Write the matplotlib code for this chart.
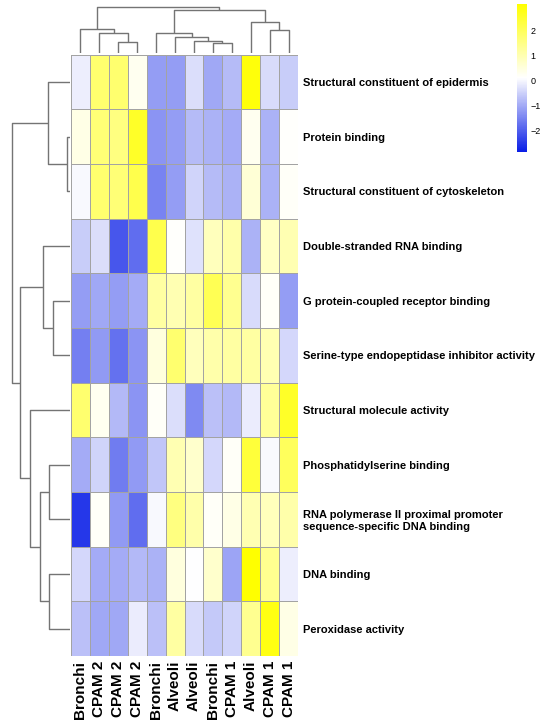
import matplotlib
matplotlib.use("Agg")
import matplotlib.pyplot as plt
import numpy as np
from matplotlib.colors import LinearSegmentedColormap

plt.rcParams["font.family"] = ["Liberation Sans", "DejaVu Sans"]

# ---- data (display order, top to bottom / left to right) ----
row_labels = [
    "Structural constituent of epidermis",
    "Protein binding",
    "Structural constituent of cytoskeleton",
    "Double-stranded RNA binding",
    "G protein-coupled receptor binding",
    "Serine-type endopeptidase inhibitor activity",
    "Structural molecule activity",
    "Phosphatidylserine binding",
    "RNA polymerase II proximal promoter\nsequence-specific DNA binding",
    "DNA binding",
    "Peroxidase activity",
]
col_labels = ["Bronchi", "CPAM 2", "CPAM 2", "CPAM 2", "Bronchi", "Alveoli",
              "Alveoli", "Bronchi", "CPAM 1", "Alveoli", "CPAM 1", "CPAM 1"]

values = [
    [-0.09, 1.80, 1.80, 0.30, -1.16, -1.16, -0.31, -1.02, -0.76, 2.95, -0.36, -0.53],
    [0.40, 1.70, 1.60, 2.60, -1.29, -1.16, -0.76, -0.89, -0.98, 0.30, -0.89, 0.15],
    [0.05, 1.80, 1.70, 2.20, -1.51, -1.16, -0.45, -0.76, -0.89, 0.60, -0.89, 0.20],
    [-0.53, -0.31, -2.09, -1.78, 2.20, 0.15, -0.27, 0.90, 1.10, -0.89, 0.80, 1.00],
    [-1.16, -1.02, -1.16, -0.98, 1.20, 1.00, 1.20, 2.10, 1.40, -0.36, 0.20, -1.16],
    [-1.56, -1.20, -1.74, -1.29, 0.50, 1.80, 0.90, 1.10, 1.20, 1.20, 1.00, -0.40],
    [1.80, 0.30, -0.80, -1.29, 0.20, -0.31, -1.42, -0.71, -0.80, -0.13, 1.30, 2.60],
    [-0.98, -0.45, -1.60, -1.20, -0.62, 1.00, 0.70, -0.40, 0.20, 2.40, 0.05, 2.00],
    [-2.50, 0.20, -1.20, -1.78, 0.05, 1.60, 1.10, 0.20, 0.40, 1.00, 0.90, 1.10],
    [-0.40, -0.98, -0.98, -0.80, -0.89, 0.50, 0.10, 0.70, -1.07, 3.08, 1.40, -0.09],
    [-0.71, -1.02, -1.02, -0.13, -0.71, 1.20, -0.36, -0.58, -0.45, 1.40, 2.85, 0.40],
]
key_min, key_max = -2.84, 3.08
key_ticks = [-2, -1, 0, 1, 2]

# linkage: (child a, child b, height); ids < n are leaves, n + k is merge k
col_merges = [
    (2, 3, 11.7), (1, 12, 20.0), (0, 13, 24.0),
    (7, 8, 10.0), (6, 15, 12.0), (5, 16, 16.0), (4, 17, 20.7),
    (10, 11, 23.3), (9, 19, 31.0),
    (18, 20, 43.3), (14, 21, 46.0),
]
row_merges = [
    (1, 2, 2.7), (0, 11, 21.7),
    (4, 5, 16.7), (3, 13, 26.7),
    (7, 8, 21.0), (9, 10, 21.5), (15, 16, 30.3), (6, 17, 40.3),
    (14, 18, 50.0), (12, 19, 57.7),
]


def dendro_segments(merges, n):
    pos = {i: float(i) for i in range(n)}
    hgt = {i: 0.0 for i in range(n)}
    segs = []
    for k, (a, b, h) in enumerate(merges):
        segs.append([(pos[a], hgt[a]), (pos[a], h), (pos[b], h), (pos[b], hgt[b])])
        pos[n + k] = (pos[a] + pos[b]) / 2
        hgt[n + k] = h
    return segs


W, H = 545, 727
fig = plt.figure(figsize=(W / 100, H / 100), dpi=100)

hm_l, hm_r, hm_t, hm_b = 71, 298, 54.7, 656
ax = fig.add_axes([hm_l / W, 1 - hm_b / H, (hm_r - hm_l) / W, (hm_b - hm_t) / H])

cmap = LinearSegmentedColormap.from_list("byw", ["#0A1EE6", "#FFFFFF", "#FFFF00"])
data = np.array(values)
mesh = ax.pcolormesh(data, cmap=cmap, vmin=key_min, vmax=key_max,
                     edgecolors="#a3a3a3", linewidth=0.7)
ax.set_xlim(0, data.shape[1])
ax.set_ylim(data.shape[0], 0)
for s in ax.spines.values():
    s.set_visible(False)

ax.set_xticks(np.arange(data.shape[1]) + 0.5)
ax.set_xticklabels(col_labels, rotation=90, fontsize=11, fontweight="bold",
                   va="top", ha="center")
ax.set_yticks(np.arange(data.shape[0]) + 0.5)
ax.set_yticklabels(row_labels, fontsize=8, fontweight="bold", linespacing=1.25)
ax.yaxis.tick_right()
ax.tick_params(axis="x", length=0, pad=3.5)
ax.tick_params(axis="y", length=0, pad=3.5)

# column dendrogram
cd_base = 53.3
axc = fig.add_axes([hm_l / W, 1 - cd_base / H, (hm_r - hm_l) / W, cd_base / H])
for seg in dendro_segments(col_merges, len(col_labels)):
    xs, ys = zip(*seg)
    axc.plot(np.array(xs) + 0.5, ys, color="#747474", lw=1.0, solid_capstyle="butt")
axc.set_xlim(0, len(col_labels))
axc.set_ylim(0, cd_base)
axc.axis("off")

# row dendrogram
rd_base = 70
axr = fig.add_axes([0, 1 - hm_b / H, rd_base / W, (hm_b - hm_t) / H])
for seg in dendro_segments(row_merges, len(row_labels)):
    ys, xs = zip(*seg)
    axr.plot(xs, np.array(ys) + 0.5, color="#747474", lw=1.0, solid_capstyle="butt")
axr.set_xlim(rd_base, 0)
axr.set_ylim(len(row_labels), 0)
axr.axis("off")

# colour key
cb_t, cb_b = 4, 151.7
cax = fig.add_axes([517 / W, 1 - cb_b / H, 10 / W, (cb_b - cb_t) / H])
cb = fig.colorbar(mesh, cax=cax, ticks=key_ticks)
cb.outline.set_visible(False)
cax.tick_params(length=0, labelsize=6.5, pad=2.5)

fig.savefig("out.png", dpi=100)
